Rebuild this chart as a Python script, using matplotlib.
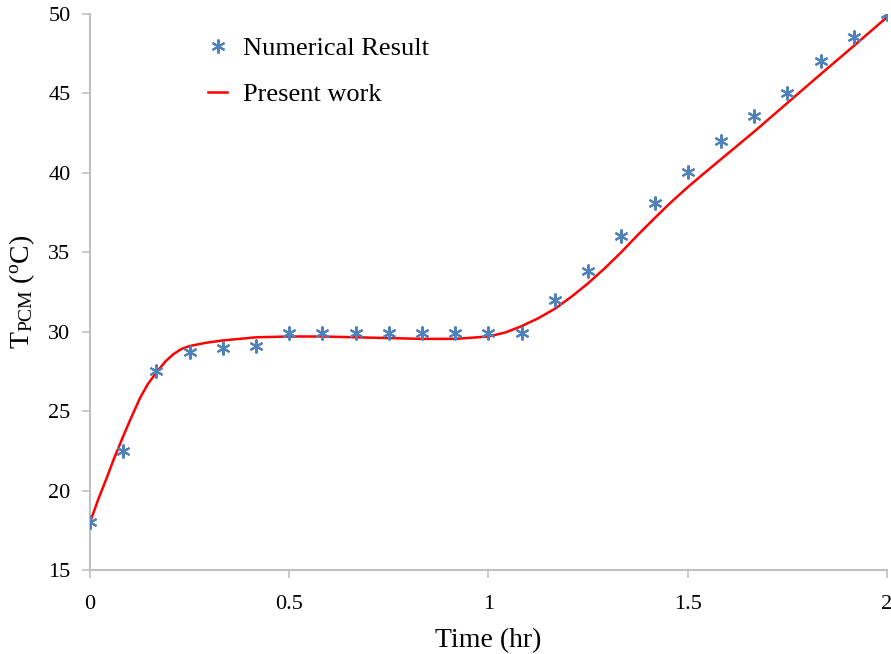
import matplotlib
matplotlib.use("Agg")
import matplotlib.pyplot as plt

# Numerical result (markers)
num_time = [0, 1/12, 2/12, 3/12, 4/12, 5/12, 6/12, 7/12, 8/12, 9/12, 10/12, 11/12,
            1.0, 13/12, 14/12, 15/12, 16/12, 17/12, 18/12, 19/12, 20/12, 21/12, 22/12, 23/12, 2.0]
num_temp = [18.0, 22.5, 27.5, 28.75, 29.0, 29.1, 29.95, 29.95, 29.95, 29.95, 29.95, 29.95,
            29.95, 29.95, 32.0, 33.8, 36.0, 38.1, 40.05, 42.0, 43.55, 45.05, 47.05, 48.55, 50.0]

# Present work (line)
pw_time = [0, 0.02, 0.042, 0.06, 0.083, 0.1, 0.125, 0.145, 0.167, 0.19, 0.21, 0.23, 0.25,
           0.29, 0.333, 0.417, 0.5, 0.583, 0.667, 0.75, 0.833, 0.917, 1.0, 1.042, 1.083,
           1.125, 1.167, 1.208, 1.25, 1.292, 1.333, 1.375, 1.417, 1.458, 1.5, 1.54,
           1.583, 1.667, 1.75, 1.833, 1.917, 2.0]
pw_temp = [18.0, 19.4, 20.8, 22.0, 23.4, 24.4, 25.8, 26.7, 27.45, 28.15, 28.6, 28.92, 29.1,
           29.3, 29.45, 29.65, 29.7, 29.7, 29.65, 29.6, 29.55, 29.55, 29.7, 29.95, 30.35,
           30.85, 31.45, 32.2, 33.05, 34.0, 35.0, 36.1, 37.15, 38.15, 39.1, 39.95,
           40.85, 42.6, 44.4, 46.2, 48.0, 49.8]

xticks = [0, 0.5, 1, 1.5, 2]
xtick_labels = ["0", "0.5", "1", "1.5", "2"]
yticks = [15, 20, 25, 30, 35, 40, 45, 50]

plt.rcParams['font.family'] = ['Liberation Serif', 'DejaVu Serif']
plt.rcParams['mathtext.fontset'] = 'custom'
plt.rcParams['mathtext.rm'] = 'Liberation Serif'
plt.rcParams['mathtext.it'] = 'Liberation Serif:italic'

fig = plt.figure(figsize=(8.91, 6.54), dpi=100)
ax = fig.add_axes([0.101, 0.1284, 0.8945, 0.8502])

ax.plot(num_time, num_temp, linestyle='none', marker=(6, 2, 0), markersize=10,
        markeredgewidth=1.5, color='#4F81BD', label='Numerical Result', zorder=3)
ax.plot(pw_time, pw_temp, color='#FF0000', linewidth=1.8, label='Present work', zorder=2)

ax.set_xlim(0, 2)
ax.set_ylim(15, 50)
ax.set_xticks(xticks)
ax.set_xticklabels(xtick_labels)
ax.set_yticks(yticks)

grey = '#BFBFBF'
for s in ['top', 'right']:
    ax.spines[s].set_visible(False)
for s in ['left', 'bottom']:
    ax.spines[s].set_color(grey)
    ax.spines[s].set_linewidth(1.5)
ax.tick_params(axis='both', direction='out', length=6, width=1.2, color=grey,
               labelsize=16, labelcolor='black')
ax.tick_params(axis='x', pad=12)
ax.tick_params(axis='y', pad=8)

ax.set_xlabel('Time (hr)', fontsize=20, labelpad=10)
ax.set_ylabel(r'T$_{\mathrm{PCM}}$ ($^{\mathrm{o}}$C)', fontsize=20, labelpad=8)

leg = ax.legend(loc='upper left', bbox_to_anchor=(0.222, 0.96), frameon=False,
                fontsize=19, handlelength=0.7, handletextpad=0.6, labelspacing=0.85,
                borderaxespad=0, bbox_transform=fig.transFigure)

fig.savefig('out.png', dpi=100)
